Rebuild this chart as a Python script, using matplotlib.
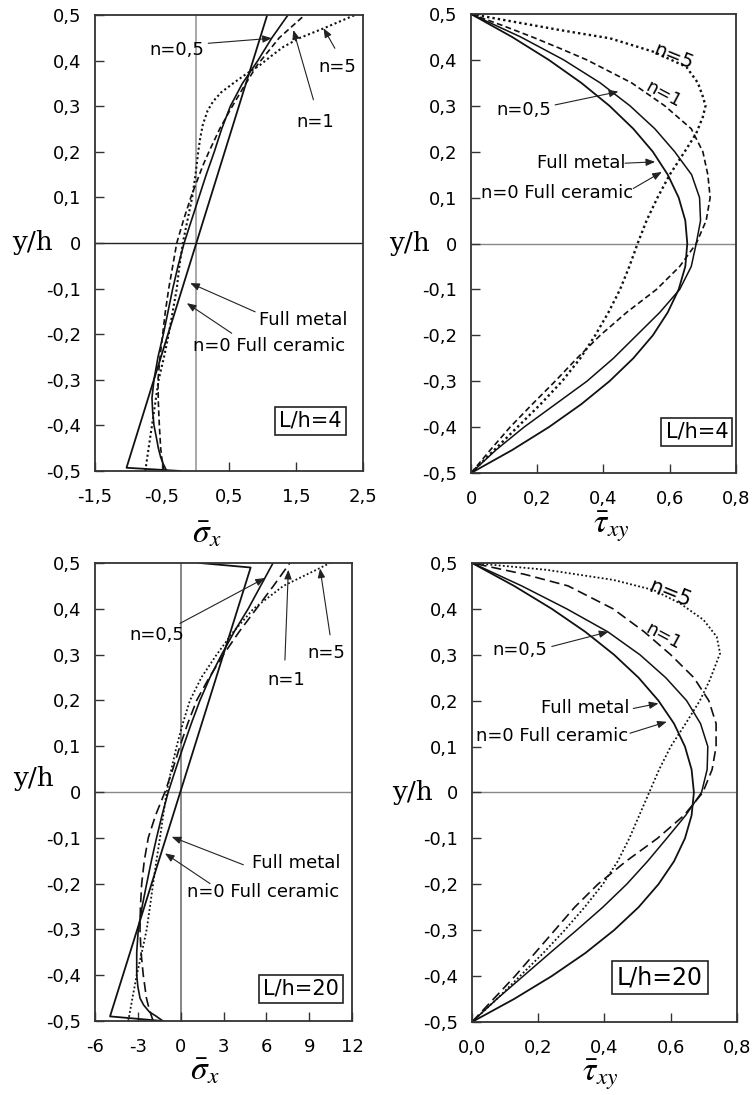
import matplotlib
matplotlib.use('Agg')
import matplotlib.pyplot as plt

# ---- data ----
# top-left: sigma_x, L/h=4
s4_hom_y = [-0.5, -0.493, 0.5]
s4_hom_x = [-0.23, -1.03, 1.07]
s4_n05_y = [-0.5, -0.485, -0.47, -0.45, -0.43, -0.4, -0.37, -0.34, -0.3, -0.25, -0.2, -0.15, -0.1, -0.05, 0.0,
            0.05, 0.1, 0.15, 0.2, 0.25, 0.3, 0.35, 0.4, 0.45, 0.5]
s4_n05_x = [-0.43, -0.48, -0.52, -0.555, -0.58, -0.62, -0.64, -0.65, -0.62, -0.56, -0.48, -0.41, -0.34, -0.26, -0.17,
            -0.06, 0.05, 0.16, 0.28, 0.39, 0.52, 0.70, 0.93, 1.14, 1.38]
s4_n1_y = [-0.5, -0.47, -0.45, -0.4, -0.35, -0.3, -0.25, -0.2, -0.15, -0.1, -0.05, 0.0, 0.05, 0.1, 0.17, 0.2,
           0.25, 0.29, 0.34, 0.39, 0.45, 0.5]
s4_n1_x = [-0.47, -0.505, -0.52, -0.54, -0.555, -0.56, -0.53, -0.49, -0.45, -0.40, -0.34, -0.28, -0.18, -0.07, 0.11, 0.20,
           0.36, 0.51, 0.71, 0.92, 1.25, 1.63]
s4_n5_y = [-0.5, -0.45, -0.4, -0.35, -0.3, -0.25, -0.2, -0.15, -0.1, -0.05, 0.0, 0.05, 0.1, 0.15, 0.2, 0.23, 0.26,
           0.29, 0.31, 0.33, 0.35, 0.37, 0.39, 0.41, 0.43, 0.45, 0.47, 0.5]
s4_n5_x = [-0.75, -0.70, -0.65, -0.60, -0.55, -0.47, -0.40, -0.34, -0.28, -0.24, -0.19, -0.12, -0.05, 0.0, 0.04, 0.07, 0.11,
           0.18, 0.26, 0.38, 0.56, 0.75, 0.96, 1.13, 1.31, 1.56, 1.90, 2.38]

# bottom-left: sigma_x, L/h=20
s20_hom_y = [-0.5, -0.49, 0.49, 0.5]
s20_hom_x = [-1.3, -4.95, 4.9, 1.3]
s20_n05_y = [-0.5, -0.49, -0.48, -0.465, -0.45, -0.425, -0.4, -0.35, -0.3, -0.25, -0.2, -0.15, -0.1, -0.05, 0.0,
             0.05, 0.1, 0.15, 0.2, 0.25, 0.3, 0.35, 0.4, 0.45, 0.5]
s20_n05_x = [-1.25, -1.7, -2.2, -2.6, -2.85, -3.0, -3.08, -3.08, -2.97, -2.7, -2.38, -2.05, -1.69, -1.3, -0.87,
             -0.35, 0.19, 0.75, 1.35, 2.05, 2.87, 3.75, 4.73, 5.6, 6.47]
s20_n1_y = [-0.5, -0.475, -0.45, -0.4, -0.35, -0.3, -0.25, -0.2, -0.15, -0.1, -0.05, 0.0, 0.05, 0.1, 0.15, 0.2,
            0.25, 0.3, 0.35, 0.4, 0.45, 0.5]
s20_n1_x = [-1.93, -2.2, -2.4, -2.62, -2.78, -2.85, -2.82, -2.73, -2.55, -2.27, -1.75, -1.1, -0.55, -0.05, 0.5, 1.12,
            2.0, 3.0, 4.1, 5.3, 6.5, 7.65]
s20_n5_y = [-0.5, -0.45, -0.4, -0.35, -0.3, -0.25, -0.2, -0.15, -0.1, -0.05, 0.0, 0.05, 0.1, 0.15, 0.2, 0.25,
            0.3, 0.35, 0.4, 0.45, 0.485, 0.5]
s20_n5_x = [-3.67, -3.38, -3.08, -2.72, -2.38, -2.15, -1.93, -1.7, -1.45, -1.22, -0.98, -0.65, -0.28, 0.15, 0.65, 1.45,
            2.52, 3.7, 5.1, 7.2, 9.5, 10.46]

# top-right: tau_xy, L/h=4
t_y = [-0.5, -0.45, -0.4, -0.35, -0.3, -0.25, -0.2, -0.15, -0.1, -0.05, 0.0,
       0.05, 0.1, 0.15, 0.2, 0.25, 0.3, 0.35, 0.4, 0.45, 0.5]
t4_hom_x = [0.0, 0.124, 0.235, 0.333, 0.418, 0.49, 0.549, 0.594, 0.627, 0.647, 0.653,
            0.647, 0.627, 0.594, 0.549, 0.49, 0.418, 0.333, 0.235, 0.124, 0.0]
t4_n05_x = [0.0, 0.075, 0.16, 0.255, 0.35, 0.43, 0.50, 0.57, 0.63, 0.665, 0.68,
            0.693, 0.69, 0.666, 0.615, 0.555, 0.48, 0.39, 0.28, 0.15, 0.0]
t4_n1_y = [-0.5, -0.45, -0.4, -0.35, -0.3, -0.25, -0.2, -0.15, -0.1, -0.05, 0.0, 0.05, 0.1, 0.15, 0.2,
           0.25, 0.3, 0.35, 0.4, 0.425, 0.45, 0.475, 0.5]
t4_n1_x = [0.0, 0.058, 0.118, 0.185, 0.254, 0.32, 0.39, 0.47, 0.56, 0.63, 0.68, 0.71, 0.722, 0.715, 0.70,
           0.665, 0.585, 0.485, 0.35, 0.269, 0.185, 0.095, 0.0]
t4_n5_y = [-0.5, -0.45, -0.4, -0.35, -0.3, -0.25, -0.2, -0.15, -0.1, -0.05, 0.0, 0.05, 0.1, 0.15, 0.2, 0.24,
           0.276, 0.3, 0.32, 0.35, 0.385, 0.418, 0.447, 0.465, 0.483, 0.5]
t4_n5_x = [0.0, 0.07, 0.14, 0.21, 0.275, 0.33, 0.375, 0.415, 0.45, 0.478, 0.503, 0.53, 0.563, 0.60, 0.645, 0.68,
           0.70, 0.708, 0.70, 0.685, 0.65, 0.55, 0.42, 0.269, 0.13, 0.0]

# bottom-right: tau_xy, L/h=20
t20_hom_x = [0.0, 0.127, 0.241, 0.342, 0.429, 0.503, 0.563, 0.61, 0.643, 0.663, 0.67,
             0.663, 0.643, 0.61, 0.563, 0.503, 0.429, 0.342, 0.241, 0.127, 0.0]
t20_n05_x = [0.0, 0.075, 0.155, 0.235, 0.316, 0.395, 0.467, 0.53, 0.588, 0.645, 0.693,
             0.71, 0.712, 0.69, 0.648, 0.585, 0.507, 0.41, 0.286, 0.15, 0.0]
t20_n1_y = [-0.5, -0.45, -0.4, -0.35, -0.3, -0.25, -0.2, -0.15, -0.1, -0.05, 0.0, 0.05, 0.1, 0.15, 0.2,
            0.25, 0.3, 0.35, 0.4, 0.45, 0.475, 0.5]
t20_n1_x = [0.0, 0.065, 0.13, 0.19, 0.25, 0.31, 0.38, 0.465, 0.56, 0.64, 0.697, 0.725, 0.737, 0.737, 0.715,
            0.67, 0.60, 0.52, 0.426, 0.29, 0.16, 0.0]
t20_n5_y = [-0.5, -0.45, -0.4, -0.35, -0.3, -0.25, -0.2, -0.15, -0.1, -0.05, 0.0, 0.05, 0.1, 0.15, 0.2, 0.245,
            0.303, 0.339, 0.376, 0.412, 0.441, 0.463, 0.485, 0.5]
t20_n5_x = [0.0, 0.075, 0.145, 0.215, 0.28, 0.34, 0.395, 0.44, 0.475, 0.505, 0.535, 0.565, 0.60, 0.645, 0.688, 0.718,
            0.749, 0.739, 0.699, 0.628, 0.548, 0.427, 0.225, 0.0]

y_ticks = [-0.5, -0.4, -0.3, -0.2, -0.1, 0.0, 0.1, 0.2, 0.3, 0.4, 0.5]
y_ticklabels = ['-0,5', '-0,4', '-0,3', '-0,2', '-0,1', '0', '0,1', '0,2', '0,3', '0,4', '0,5']
s4_ticks = [-1.5, -0.5, 0.5, 1.5, 2.5]
s4_ticklabels = ['-1,5', '-0,5', '0,5', '1,5', '2,5']
s20_ticks = [-6, -3, 0, 3, 6, 9, 12]
s20_ticklabels = ['-6', '-3', '0', '3', '6', '9', '12']
t_ticks = [0.0, 0.2, 0.4, 0.6, 0.8]
t4_ticklabels = ['0', '0,2', '0,4', '0,6', '0,8']
t20_ticklabels = ['0,0', '0,2', '0,4', '0,6', '0,8']

plt.rcParams['mathtext.fontset'] = 'stix'
fig = plt.figure(figsize=(7.53, 10.95), dpi=100)

ax1 = fig.add_axes([0.1262, 0.5699, 0.3559, 0.4164])
ax2 = fig.add_axes([0.6255, 0.5680, 0.3519, 0.4192])
ax3 = fig.add_axes([0.1262, 0.0676, 0.3413, 0.4183])
ax4 = fig.add_axes([0.6268, 0.0667, 0.3519, 0.4192])

ARR = dict(arrowstyle='-|>,head_length=0.55,head_width=0.22', color='#222222', lw=0.8, shrinkA=0, shrinkB=0)
FS = 13
SOLID = dict(color='#111111', lw=1.2)
DASH4 = dict(color='#111111', lw=1.2, ls=(0, (3.5, 2)))
DASH20 = dict(color='#111111', lw=1.2, ls=(0, (6, 3)))
DOT = dict(color='#111111', lw=1.5, ls=(0, (1, 1.3)))


def style(ax, xlim, xticks, xlabels, gray_zero, ylab_x, ylab_y):
    ax.set_xlim(xlim)
    ax.set_ylim(-0.5, 0.5)
    ax.set_yticks(y_ticks)
    ax.set_yticklabels(y_ticklabels)
    ax.set_xticks(xticks)
    ax.set_xticklabels(xlabels)
    ax.tick_params(direction='in', length=6.5, width=1.0, labelsize=FS, color='#333333')
    ax.tick_params(axis='y', pad=10)
    ax.tick_params(axis='x', pad=12)
    for sp in ax.spines.values():
        sp.set_linewidth(1.3)
        sp.set_color('#333333')
    ax.axhline(0, color='#888888' if gray_zero else '#222222', lw=1.0, zorder=1)
    ax.text(ylab_x, ylab_y, 'y/h', transform=ax.transAxes, fontsize=19, family='DejaVu Serif',
            ha='left', va='center')


def box(ax, x, y, s, fs):
    ax.text(x, y, s, fontsize=fs, ha='center', va='center',
            bbox=dict(boxstyle='square,pad=0.2', fc='white', ec='#222222', lw=1.2))


# ---- top-left ----
style(ax1, (-1.5, 2.5), s4_ticks, s4_ticklabels, False, -0.31, 0.5)
ax1.axvline(0, color='#999999', lw=1.2, zorder=1)
ax1.plot(s4_hom_x, s4_hom_y, color='#111111', lw=1.3)
ax1.plot(s4_n05_x, s4_n05_y, **SOLID)
ax1.plot(s4_n1_x, s4_n1_y, **DASH4)
ax1.plot(s4_n5_x, s4_n5_y, **DOT)
ax1.annotate('', xy=(1.14, 0.449), xytext=(0.19, 0.438), arrowprops=ARR)
ax1.text(-0.28, 0.423, 'n=0,5', fontsize=FS, ha='center', va='center')
ax1.annotate('', xy=(1.91, 0.471), xytext=(2.08, 0.427), arrowprops=ARR)
ax1.text(2.11, 0.387, 'n=5', fontsize=FS, ha='center', va='center')
ax1.annotate('', xy=(1.46, 0.467), xytext=(1.76, 0.314), arrowprops=ARR)
ax1.text(1.78, 0.266, 'n=1', fontsize=FS, ha='center', va='center')
ax1.annotate('', xy=(-0.08, -0.088), xytext=(0.89, -0.151), arrowprops=ARR)
ax1.text(1.61, -0.169, 'Full metal', fontsize=FS, ha='center', va='center')
ax1.annotate('', xy=(-0.13, -0.132), xytext=(0.54, -0.198), arrowprops=ARR)
ax1.text(1.10, -0.227, 'n=0 Full ceramic', fontsize=FS, ha='center', va='center')
box(ax1, 1.71, -0.39, 'L/h=4', 15)
ax1.text(0.418, -0.136, r'$\bar{\sigma}_x$', transform=ax1.transAxes, fontsize=24, ha='center', va='center')

# ---- top-right ----
style(ax2, (0, 0.8), t_ticks, t4_ticklabels, True, -0.31, 0.5)
ax2.plot(t4_hom_x, t_y, color='#111111', lw=1.3)
ax2.plot(t4_n05_x, t_y, color='#111111', lw=1.1)
ax2.plot(t4_n1_x, t4_n1_y, **DASH4)
ax2.plot(t4_n5_x, t4_n5_y, color='#111111', lw=1.7, ls=(0, (1, 1.3)))
ax2.text(0.611, 0.407, 'n=5', fontsize=FS + 1, rotation=-22, ha='center', va='center')
ax2.text(0.581, 0.324, 'n=1', fontsize=FS, rotation=-28, ha='center', va='center')
ax2.annotate('', xy=(0.445, 0.331), xytext=(0.254, 0.302), arrowprops=ARR)
ax2.text(0.158, 0.291, 'n=0,5', fontsize=FS, ha='center', va='center')
ax2.annotate('', xy=(0.556, 0.178), xytext=(0.465, 0.175), arrowprops=ARR)
ax2.text(0.334, 0.175, 'Full metal', fontsize=FS, ha='center', va='center')
ax2.annotate('', xy=(0.576, 0.156), xytext=(0.49, 0.12), arrowprops=ARR)
ax2.text(0.259, 0.109, 'n=0 Full ceramic', fontsize=FS, ha='center', va='center')
box(ax2, 0.682, -0.41, 'L/h=4', 15)
ax2.text(0.531, -0.117, r'$\bar{\tau}_{xy}$', transform=ax2.transAxes, fontsize=24, ha='center', va='center')

# ---- bottom-left ----
style(ax3, (-6, 12), s20_ticks, s20_ticklabels, True, -0.32, 0.53)
ax3.axvline(0, color='#666666', lw=1.1, zorder=1)
ax3.plot(s20_hom_x, s20_hom_y, color='#111111', lw=1.3)
ax3.plot(s20_n05_x, s20_n05_y, **SOLID)
ax3.plot(s20_n1_x, s20_n1_y, **DASH20)
ax3.plot(s20_n5_x, s20_n5_y, color='#111111', lw=1.3, ls=(0, (1, 1.3)))
ax3.annotate('', xy=(5.9, 0.467), xytext=(-0.05, 0.368), arrowprops=ARR)
ax3.text(-1.68, 0.343, 'n=0,5', fontsize=FS, ha='center', va='center')
ax3.annotate('', xy=(7.54, 0.485), xytext=(7.3, 0.288), arrowprops=ARR)
ax3.text(7.42, 0.245, 'n=1', fontsize=FS, ha='center', va='center')
ax3.annotate('', xy=(9.76, 0.488), xytext=(10.46, 0.343), arrowprops=ARR)
ax3.text(10.2, 0.303, 'n=5', fontsize=FS, ha='center', va='center')
ax3.annotate('', xy=(-0.63, -0.098), xytext=(4.39, -0.159), arrowprops=ARR)
ax3.text(8.12, -0.156, 'Full metal', fontsize=FS, ha='center', va='center')
ax3.annotate('', xy=(-1.10, -0.134), xytext=(2.05, -0.2), arrowprops=ARR)
ax3.text(5.79, -0.218, 'n=0 Full ceramic', fontsize=FS, ha='center', va='center')
box(ax3, 8.41, -0.43, 'L/h=20', 15)
ax3.text(0.428, -0.108, r'$\bar{\sigma}_x$', transform=ax3.transAxes, fontsize=24, ha='center', va='center')

# ---- bottom-right ----
style(ax4, (0, 0.8), t_ticks, t20_ticklabels, True, -0.30, 0.5)
ax4.plot(t20_hom_x, t_y, color='#111111', lw=1.3)
ax4.plot(t20_n05_x, t_y, color='#111111', lw=1.1)
ax4.plot(t20_n1_x, t20_n1_y, **DASH20)
ax4.plot(t20_n5_x, t20_n5_y, color='#111111', lw=1.3, ls=(0, (1, 1.3)))
ax4.text(0.598, 0.434, 'n=5', fontsize=FS + 2, rotation=-22, ha='center', va='center')
ax4.text(0.578, 0.339, 'n=1', fontsize=FS, rotation=-28, ha='center', va='center')
ax4.annotate('', xy=(0.412, 0.35), xytext=(0.241, 0.318), arrowprops=ARR)
ax4.text(0.145, 0.31, 'n=0,5', fontsize=FS, ha='center', va='center')
ax4.annotate('', xy=(0.563, 0.194), xytext=(0.487, 0.183), arrowprops=ARR)
ax4.text(0.341, 0.183, 'Full metal', fontsize=FS, ha='center', va='center')
ax4.annotate('', xy=(0.588, 0.154), xytext=(0.477, 0.129), arrowprops=ARR)
ax4.text(0.241, 0.122, 'n=0 Full ceramic', fontsize=FS, ha='center', va='center')
box(ax4, 0.568, -0.403, 'L/h=20', 17)
ax4.text(0.483, -0.115, r'$\bar{\tau}_{xy}$', transform=ax4.transAxes, fontsize=24, ha='center', va='center')

fig.savefig('out.png', dpi=100)
